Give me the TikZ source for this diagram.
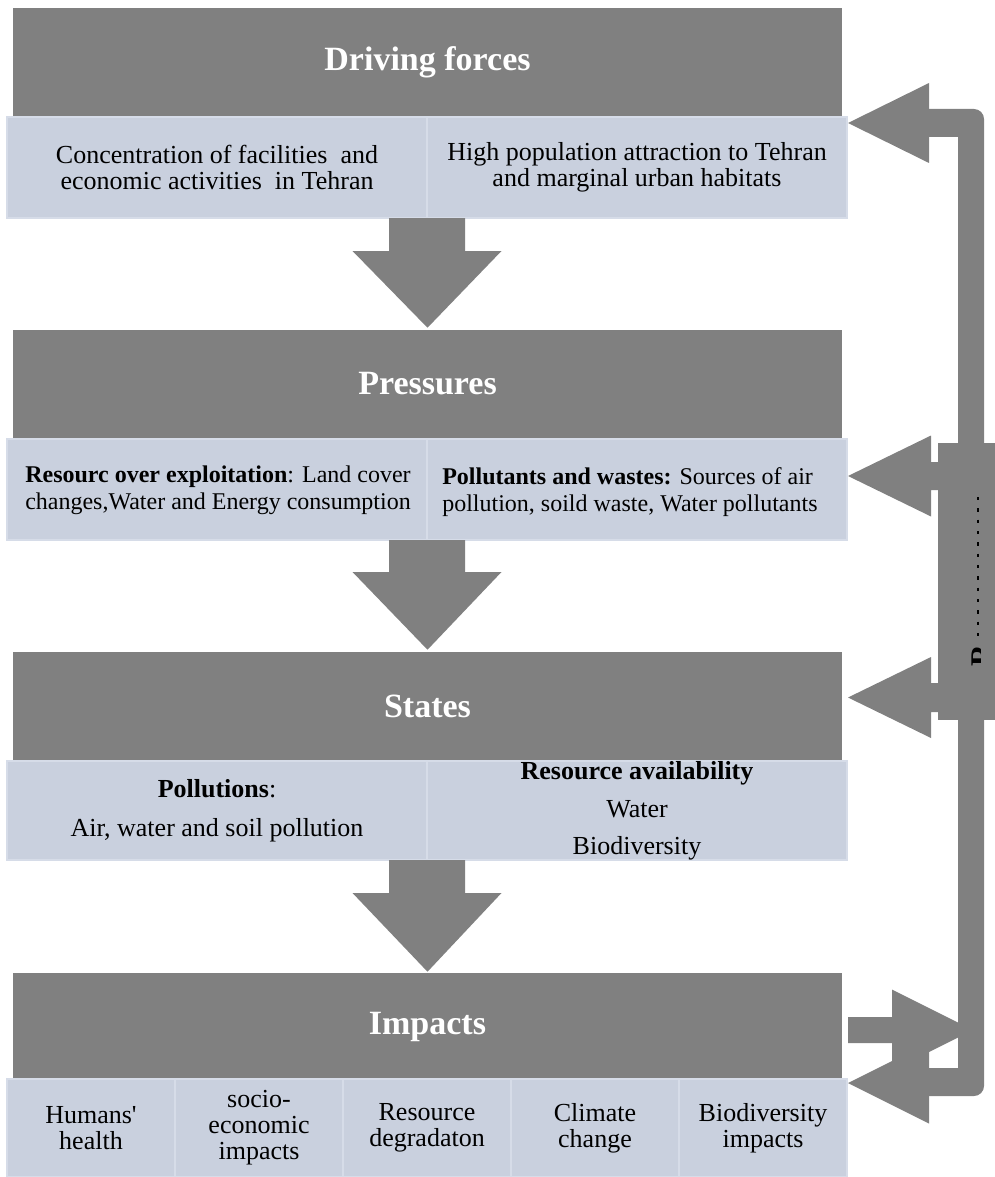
\documentclass[tikz,border=0pt]{standalone}
\usepackage{fontspec}
\setmainfont{Liberation Serif}[Ligatures=TeXOff]
\usetikzlibrary{calc}
\definecolor{hdr}{RGB}{128,128,128}
\definecolor{lbox}{RGB}{201,208,222}
\definecolor{lboxb}{RGB}{214,220,232}
\begin{document}
\begin{tikzpicture}[x=0.75pt,y=-0.75pt,
  header/.style={fill=hdr,draw=none,inner sep=0pt,minimum width=621.75pt,text=white,font=\fontsize{25.5}{30}\selectfont\bfseries},
  box/.style={fill=lbox,draw=lboxb,line width=1.2pt,inner sep=0pt,align=center,font=\fontsize{19.5}{19.5}\selectfont},
  half/.style={box,minimum width=315pt},
  fifth/.style={box,minimum width=126pt,minimum height=73.5pt},
  ptext/.style={inner sep=0pt,align=left,font=\fontsize{18}{20.25}\selectfont},
  grayshape/.style={fill=hdr,draw=none}]
\useasboundingbox (0,0) rectangle (995,1177);

% headers
\node[header,minimum height=81.75pt] (h1) at (427.5,62.5) {Driving forces};
\node[header,minimum height=81pt] (h2) at (427.5,384) {Pressures};
\node[header,minimum height=81pt] (h3) at (427.5,706) {States};
\node[header,minimum height=80.25pt] (h4) at (427.5,1026.5) {Impacts};

% driving forces boxes
\node[half,minimum height=75.75pt] (b1l) at (217,167.5) {Concentration of facilities\ \ and\\economic activities\ \ in Tehran};
\node[half,minimum height=75.75pt] (b1r) at (637,167.5) {High population attraction to Tehran\\and marginal urban habitats};

% pressures boxes
\node[half,minimum height=75.75pt] (b2l) at (217,489.5) {};
\node[half,minimum height=75.75pt] (b2r) at (637,489.5) {};
\node[ptext,anchor=west] (t2l) at (25,490) {\textbf{Resourc over exploitation}: Land cover\\changes,Water and Energy consumption};
\node[ptext,anchor=west] (t2r) at (442,492) {\textbf{Pollutants and wastes:} Sources of air\\pollution, soild waste, Water pollutants};

% states boxes
\node[half,minimum height=74.25pt] (b3l) at (217,810.5) {\textbf{Pollutions}:\\[9.75pt]Air, water and soil pollution};
\node[half,minimum height=74.25pt] (b3r) at (637,810.5) {\textbf{Resource availability}\\[9pt]Water\\[8pt]Biodiversity};

% impacts boxes
\node[fifth] (i1) at (91,1128) {Humans'\\health};
\node[fifth] (i2) at (259,1128) {socio-\\economic\\impacts};
\node[fifth] (i3) at (427,1128) {Resource\\degradaton};
\node[fifth] (i4) at (595,1128) {Climate\\change};
\node[fifth] (i5) at (763,1128) {Biodiversity\\impacts};

% down arrows
\coordinate (d1) at (427,218);
\coordinate (d2) at (427,540);
\coordinate (d3) at (427,860);
\fill[grayshape] ($(d1)+(-38,0)$) -- ($(d1)+(38,0)$) -- ($(d1)+(38,33)$) -- ($(d1)+(74.5,33)$) -- ($(h2.north)+(0,-2)$) -- ($(d1)+(-74.5,33)$) -- ($(d1)+(-38,33)$) -- cycle;
\fill[grayshape] ($(d2)+(-38,0)$) -- ($(d2)+(38,0)$) -- ($(d2)+(38,32)$) -- ($(d2)+(74.5,32)$) -- ($(h3.north)+(0,-2)$) -- ($(d2)+(-74.5,32)$) -- ($(d2)+(-38,32)$) -- cycle;
\fill[grayshape] ($(d3)+(-38,0)$) -- ($(d3)+(38,0)$) -- ($(d3)+(38,33)$) -- ($(d3)+(74.5,33)$) -- ($(h4.north)+(0,-1)$) -- ($(d3)+(-74.5,33)$) -- ($(d3)+(-38,33)$) -- cycle;

% feedback loop
\fill[grayshape] (929,109) [rounded corners=7.5pt] -- (984,109) -- (984,1096) [sharp corners] -- (929,1096) -- (929,1068) -- (958,1068) -- (958,137) -- (929,137) -- cycle;
\coordinate (fa) at (848,123);
\coordinate (fb) at (848,476);
\coordinate (fc) at (848,697.5);
\coordinate (fd) at (848,1083);
\coordinate (fe) at (848,1030);
\fill[grayshape] (fa) -- (929,83) -- (929,163) -- cycle;
\fill[grayshape] (fb) -- (931,435.5) -- (931,462) -- (958,462) -- (958,490) -- (931,490) -- (931,516.5) -- cycle;
\fill[grayshape] (fc) -- (931,657) -- (931,683) -- (958,683) -- (958,712) -- (931,712) -- (931,738) -- cycle;
\fill[grayshape] (fd) -- (929,1042.5) -- (929,1123.5) -- cycle;
\fill[grayshape] ($(fe)+(0,-13)$) -- (892,1017) -- (892,989.5) -- (973,1030) -- (892,1070.5) -- (892,1043) -- ($(fe)+(0,13)$) -- cycle;

% responses box (partially rendered)
\node[grayshape,inner sep=0pt,minimum width=42.75pt,minimum height=207.75pt] (resp) at (966.5,581.5) {};
\draw[black,line width=0.8pt,dash pattern=on 2.5pt off 6pt] (978,497) -- (978,640);
\begin{scope}
\clip (955,640) rectangle (980,672);
\node[rotate=90,inner sep=0pt,font=\fontsize{22.5}{22.5}\selectfont\bfseries] (rfrag) at (982,656) {R};
\end{scope}
\end{tikzpicture}
\end{document}
